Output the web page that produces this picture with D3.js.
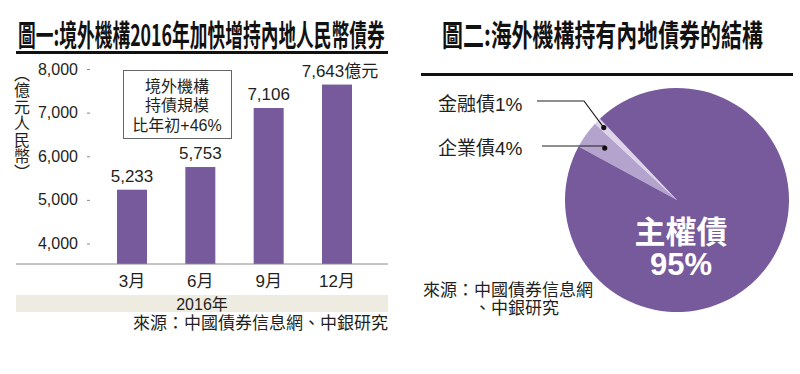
<!DOCTYPE html>
<html>
<head>
<meta charset="utf-8">
<script src="https://cdn.jsdelivr.net/npm/d3@7"></script>
<style>
  body { margin: 0; background: #fff; }
  svg { display: block; }
  text { font-family: "Liberation Sans", "Noto Sans CJK TC", sans-serif; fill: #231f20; }
  .title { font-family: "Noto Sans CJK TC", sans-serif; font-weight: 700; font-size: 28px; fill: #111; }
</style>
</head>
<body>
<svg id="chart" width="800" height="374"></svg>
<script>
// left chart data
const months = ["3月", "6月", "9月", "12月"];
const holdings = [5233, 5753, 7106, 7643];
const holdingLabels = ["5,233", "5,753", "7,106", "7,643億元"];
const yTicks = [4000, 5000, 6000, 7000, 8000];
const yearLabel = "2016年";
const unitLabel = "（億元人民幣）";
const noteLines = ["境外機構", "持債規模", "比年初+46%"];

// right chart data
const bondTypes = ["企業債", "金融債", "主權債"];
const bondShares = [4, 1, 95];

const purple = "#775a9b";
const sliceColors = ["#b4a4cd", "#ddd4ea", purple];

const svg = d3.select("#chart");

// condensed headline: squeeze the bold text horizontally to the wanted width
function headline(str, x0, yc, w) {
  const t = svg.append("text")
    .attr("class", "title")
    .attr("dominant-baseline", "central")
    .text(str);
  const natural = t.node().getComputedTextLength();
  t.attr("transform", `translate(${x0},${yc}) scale(${w / natural},1.05)`);
}

// ---------- chart 1 ----------
headline("圖一:境外機構2016年加快增持內地人民幣債券", 18, 33, 367);
svg.append("rect").attr("x", 16).attr("y", 51).attr("width", 372).attr("height", 3).attr("fill", "#111");

const y = d3.scaleLinear().domain([3530, 8000]).range([264, 69]);
const x = d3.scalePoint().domain(months).range([132, 337]);
const barW = 30;

const yAxis = svg.append("g")
  .attr("transform", "translate(90,0)")
  .call(d3.axisLeft(y).tickValues(yTicks).tickFormat(d3.format(",")).tickSize(3).tickPadding(9));
yAxis.select(".domain").remove();
yAxis.selectAll(".tick line").attr("stroke", "#888");
yAxis.selectAll(".tick text")
  .style("font-family", "Liberation Sans, sans-serif")
  .style("font-size", "16px")
  .attr("fill", "#231f20");

svg.append("text")
  .attr("x", 22)
  .attr("y", 66)
  .style("writing-mode", "vertical-rl")
  .style("text-orientation", "upright")
  .style("font-family", "'Noto Sans CJK TC', sans-serif")
  .style("font-size", "16px")
  .style("letter-spacing", "0.4px")
  .text(unitLabel);

svg.append("g")
  .selectAll("rect")
  .data(holdings)
  .enter()
  .append("rect")
  .attr("x", (d, i) => x(months[i]) - barW / 2)
  .attr("y", (d) => y(d))
  .attr("width", barW)
  .attr("height", (d) => y(3530) - y(d))
  .attr("fill", purple);

svg.append("g")
  .selectAll("text")
  .data(holdings)
  .enter()
  .append("text")
  .attr("x", (d, i) => x(months[i]) + (i === 3 ? 3 : 0))
  .attr("y", (d) => y(d) - 8)
  .attr("text-anchor", "middle")
  .style("font-size", "17px")
  .text((d, i) => holdingLabels[i]);

svg.append("line")
  .attr("x1", 16).attr("x2", 388)
  .attr("y1", y(3530)).attr("y2", y(3530))
  .attr("stroke", "#8a8a8a").attr("stroke-width", 1);

svg.append("g")
  .selectAll("text")
  .data(months)
  .enter()
  .append("text")
  .attr("x", (d) => x(d))
  .attr("y", 281)
  .attr("text-anchor", "middle")
  .attr("dominant-baseline", "central")
  .style("font-size", "17px")
  .text((d) => d);

svg.append("rect").attr("x", 16).attr("y", 295).attr("width", 372).attr("height", 17).attr("fill", "#eeebe0");
svg.append("text")
  .attr("x", 202).attr("y", 304)
  .attr("text-anchor", "middle").attr("dominant-baseline", "central")
  .style("font-size", "16px")
  .text(yearLabel);

svg.append("text")
  .attr("x", 388).attr("y", 323)
  .attr("text-anchor", "end").attr("dominant-baseline", "central")
  .style("font-size", "17px")
  .text("來源：中國債券信息網、中銀研究");

// note box
svg.append("rect")
  .attr("x", 123.5).attr("y", 70.5).attr("width", 108).attr("height", 68)
  .attr("fill", "#fff").attr("stroke", "#666").attr("stroke-width", 1);
svg.append("g")
  .selectAll("text")
  .data(noteLines)
  .enter()
  .append("text")
  .attr("x", 177)
  .attr("y", (d, i) => 86 + i * 19.5)
  .attr("text-anchor", "middle")
  .attr("dominant-baseline", "central")
  .style("font-size", "16px")
  .text((d) => d);

// ---------- chart 2 ----------
headline("圖二:海外機構持有內地債券的結構", 442, 33, 321);
svg.append("rect").attr("x", 421).attr("y", 73).attr("width", 372).attr("height", 3).attr("fill", "#111");

const cx = 677, cy = 200, r = 112;
const pie = d3.pie().sort(null)
  .startAngle(-61.5 * Math.PI / 180)
  .endAngle((360 - 61.5) * Math.PI / 180);
const arcs = pie(bondShares);
const arc = d3.arc().innerRadius(0).outerRadius(r);

const pieG = svg.append("g").attr("transform", `translate(${cx},${cy})`);
pieG.selectAll("path")
  .data(arcs)
  .enter()
  .append("path")
  .attr("d", arc)
  .attr("fill", (d, i) => sliceColors[i]);

// leader lines for the two small slices
const dotRadius = [89, 103];
const labelY = [146, 101];
[0, 1].forEach((i) => {
  const p = d3.arc().innerRadius(dotRadius[i]).outerRadius(dotRadius[i]).centroid(arcs[i]);
  const px = cx + p[0], py = cy + p[1];
  const pts = i === 1
    ? [[537, labelY[i]], [584, labelY[i]], [px, py]]
    : [[542, labelY[i]], [px, labelY[i]], [px, py]];
  svg.append("path")
    .attr("d", d3.line()(pts))
    .attr("fill", "none").attr("stroke", "#231f20").attr("stroke-width", 1.2);
  svg.append("circle").attr("cx", px).attr("cy", py).attr("r", 2.6).attr("fill", "#111");
  svg.append("text")
    .attr("x", 438).attr("y", labelY[i] + (i === 1 ? 3 : 2))
    .attr("dominant-baseline", "central")
    .style("font-size", "19px")
    .text(bondTypes[i] + bondShares[i] + "%");
});

svg.append("text")
  .attr("x", 681).attr("y", 232)
  .attr("text-anchor", "middle").attr("dominant-baseline", "central")
  .style("font-size", "31px").style("font-weight", "700").style("fill", "#fff")
  .text(bondTypes[2]);
svg.append("text")
  .attr("x", 681).attr("y", 264)
  .attr("text-anchor", "middle").attr("dominant-baseline", "central")
  .style("font-size", "31px").style("font-weight", "700").style("fill", "#fff")
  .text(bondShares[2] + "%");

svg.append("text")
  .attr("x", 423).attr("y", 290)
  .attr("dominant-baseline", "central")
  .style("font-size", "17px")
  .text("來源：中國債券信息網");
svg.append("text")
  .attr("x", 474).attr("y", 308)
  .attr("dominant-baseline", "central")
  .style("font-size", "17px")
  .text("、中銀研究");
</script>
</body>
</html>
